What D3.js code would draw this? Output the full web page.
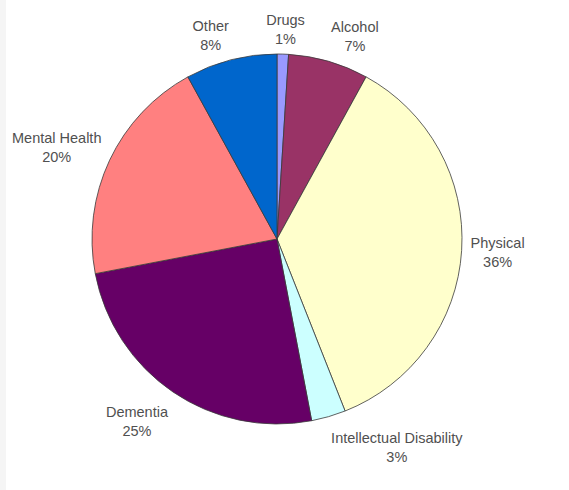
<!DOCTYPE html>
<html>
<head>
<meta charset="utf-8">
<script src="https://cdn.jsdelivr.net/npm/d3@7"></script>
<style>
  html, body { margin: 0; padding: 0; background: #ffffff; }
  svg { display: block; }
</style>
</head>
<body>
<svg id="chart" width="569" height="490"></svg>
<script>
// ---- data ----
const categories = ["Drugs", "Alcohol", "Physical", "Intellectual Disability", "Dementia", "Mental Health", "Other"];
const values = [1, 7, 36, 3, 25, 20, 8];
const labels = ["1%", "7%", "36%", "3%", "25%", "20%", "8%"];
const colors = ["#9999ff", "#993366", "#ffffcc", "#ccffff", "#660066", "#ff8080", "#0066cc"];

// ---- layout ----
const W = 569, H = 490;
const cx = 277, cy = 239, R = 185;
const gap = 9;

const svg = d3.select("#chart");

// faint left margin strip seen in the reference
svg.append("rect").attr("x", 0).attr("y", 0).attr("width", 6).attr("height", H).attr("fill", "#f5f5f5");

const g = svg.append("g").attr("transform", `translate(${cx},${cy})`);

const data = categories.map((c, i) => ({ name: c, value: values[i], label: labels[i], color: colors[i] }));

const pie = d3.pie().value(d => d.value).sort(null).startAngle(0).endAngle(2 * Math.PI);
const arc = d3.arc().innerRadius(0).outerRadius(R);
const arcs = pie(data);

g.selectAll("path.slice")
  .data(arcs)
  .join("path")
  .attr("class", "slice")
  .attr("d", arc)
  .attr("fill", d => d.data.color)
  .attr("stroke", "#3a3a3a")
  .attr("stroke-width", 0.8)
  .attr("stroke-linejoin", "round");

// ---- labels (Excel-like outside placement) ----
const clamp = (v) => Math.max(-1, Math.min(1, v));
const fontSize = 14.5;
const lineH = 19;

arcs.forEach(a => {
  const mid = (a.startAngle + a.endAngle) / 2;
  const s = Math.sin(mid), c = Math.cos(mid);
  const px = (R + gap) * s;
  const py = -(R + gap) * c;

  const t = g.append("text")
    .attr("font-family", "'Liberation Sans', Arial, Helvetica, sans-serif")
    .attr("font-size", fontSize)
    .attr("fill", "#505050")
    .attr("text-anchor", "middle");
  const t1 = t.append("tspan").text(a.data.name);
  const t2 = t.append("tspan").text(a.data.label);

  const w = Math.max(t1.node().getComputedTextLength(), t2.node().getComputedTextLength());
  const hx = clamp(4 * s) * w / 2;
  const v = clamp(-1.25 * c);
  const vy = v * (v > 0 ? 22 : 16);
  const bx = px + hx;
  const by = py + vy;

  t1.attr("x", bx).attr("y", by - 4.5);
  t2.attr("x", bx).attr("y", by - 4.5 + lineH);
});
</script>
</body>
</html>
